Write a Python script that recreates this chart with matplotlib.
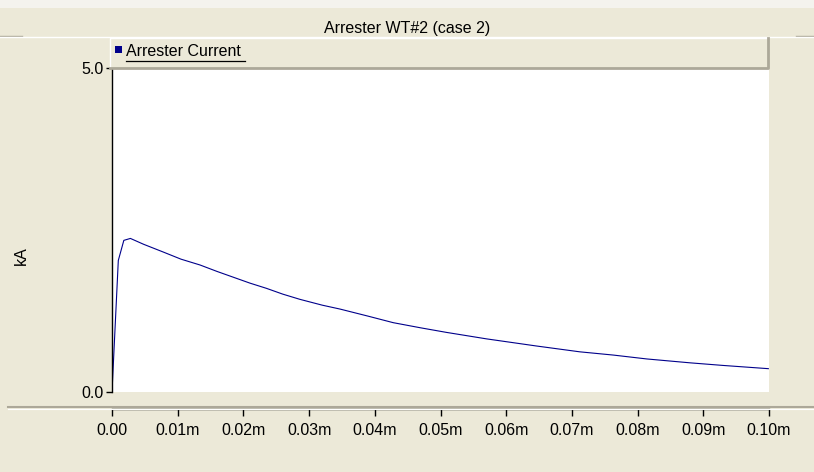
import numpy as np
import matplotlib.pyplot as plt
from matplotlib.patches import Rectangle
from matplotlib.lines import Line2D

plt.rcParams['font.family'] = ['Liberation Sans', 'DejaVu Sans']

# arrester current trace (time in s, current in kA)
t_s = [0.0, 0.00096, 0.0018, 0.0028, 0.0048, 0.0078, 0.0105, 0.0134, 0.016, 0.0185,
       0.021, 0.0235, 0.026, 0.0286, 0.032, 0.0347, 0.039, 0.0428, 0.047, 0.0509,
       0.057, 0.0646, 0.0712, 0.0763, 0.0814, 0.088, 0.093, 0.0999]
i_ka = [0.0, 2.03, 2.34, 2.37, 2.28, 2.16, 2.05, 1.96, 1.86, 1.77,
        1.68, 1.60, 1.51, 1.43, 1.34, 1.28, 1.17, 1.07, 0.99, 0.92,
        0.82, 0.71, 0.62, 0.57, 0.51, 0.45, 0.41, 0.36]

x_ticks = [0.0, 0.01, 0.02, 0.03, 0.04, 0.05, 0.06, 0.07, 0.08, 0.09, 0.10]
x_labels = ['0.00', '0.01m', '0.02m', '0.03m', '0.04m', '0.05m', '0.06m',
            '0.07m', '0.08m', '0.09m', '0.10m']
y_ticks = [0.0, 5.0]
y_labels = ['0.0', '5.0']

title = 'Arrester WT#2 (case 2)'
series_name = 'Arrester Current'
y_unit = 'kA'

W, H = 814, 472
bg = '#ECE9D8'
shade = '#ACA899'
fs = 11.5

fig = plt.figure(figsize=(W / 100, H / 100), dpi=100, facecolor=bg)


def px(x0, y0, w, h):
    # pixel box (top-left origin) -> figure fraction
    return [x0 / W, 1 - (y0 + h) / H, w / W, h / H]


def hline(x0, x1, y, color, lw=1.0):
    fig.add_artist(Line2D([x0 / W, x1 / W], [1 - y / H, 1 - y / H],
                          color=color, lw=lw, transform=fig.transFigure))


# title band
fig.add_artist(Rectangle((0, 1 - 8 / H), 1, 8 / H, transform=fig.transFigure,
                         facecolor='#F4F3EE', edgecolor='none'))
hline(0, 22, 35.5, shade)
hline(796, 814, 35.5, shade)
hline(0, 814, 37, 'white')
fig.text(407 / W, 1 - 27 / H, title, ha='center', va='center_baseline', fontsize=fs)

# plot area
ax = fig.add_axes(px(112, 68, 657, 324))
ax.set_facecolor('white')
ax.plot(t_s, i_ka, color='#00008B', lw=0.8)
ax.set_xlim(0, 0.10)
ax.set_ylim(0, 5.0)
ax.set_xticks(x_ticks, labels=x_labels)
ax.set_yticks(y_ticks, labels=y_labels)
for s in ['top', 'right']:
    ax.spines[s].set_visible(False)
ax.spines['left'].set_color('black')
ax.spines['left'].set_linewidth(1.0)
ax.spines['bottom'].set_position(('outward', 12.5))
ax.spines['bottom'].set_linewidth(1.0)
ax.tick_params(axis='x', direction='out', length=5, width=1, pad=5, labelsize=fs)
ax.tick_params(axis='y', direction='out', length=4, width=1, pad=2, labelsize=fs)
ax.set_ylabel(y_unit, fontsize=fs, labelpad=2)
ax.yaxis.set_label_coords(-83 / 657, 0.42)

# separator above the time axis
hline(8, 814, 407, shade, lw=1.5)
hline(8, 814, 408.5, 'white', lw=0.8)

# legend bar
lx0, ly0, lx1, ly1 = 110, 38, 768, 68
fig.add_artist(Rectangle((lx0 / W, 1 - ly1 / H), (lx1 - lx0) / W, (ly1 - ly0) / H,
                         transform=fig.transFigure, facecolor=bg, edgecolor='none'))
fig.add_artist(Line2D([lx0 / W, lx0 / W, lx1 / W], [1 - ly1 / H, 1 - ly0 / H, 1 - ly0 / H],
                      color='white', lw=1.0, transform=fig.transFigure))
fig.add_artist(Line2D([lx0 / W, lx1 / W, lx1 / W], [1 - ly1 / H, 1 - ly1 / H, 1 - ly0 / H],
                      color=shade, lw=2.0, transform=fig.transFigure))
fig.add_artist(Rectangle((115 / W, 1 - 53 / H), 7 / W, 7 / H, transform=fig.transFigure,
                         facecolor='#00008B', edgecolor='none'))
fig.text(126 / W, 1 - 52 / H, series_name, ha='left', va='center', fontsize=fs)
hline(126, 245, 61, 'black', lw=0.9)

fig.savefig('out.png', dpi=100, facecolor=bg)
